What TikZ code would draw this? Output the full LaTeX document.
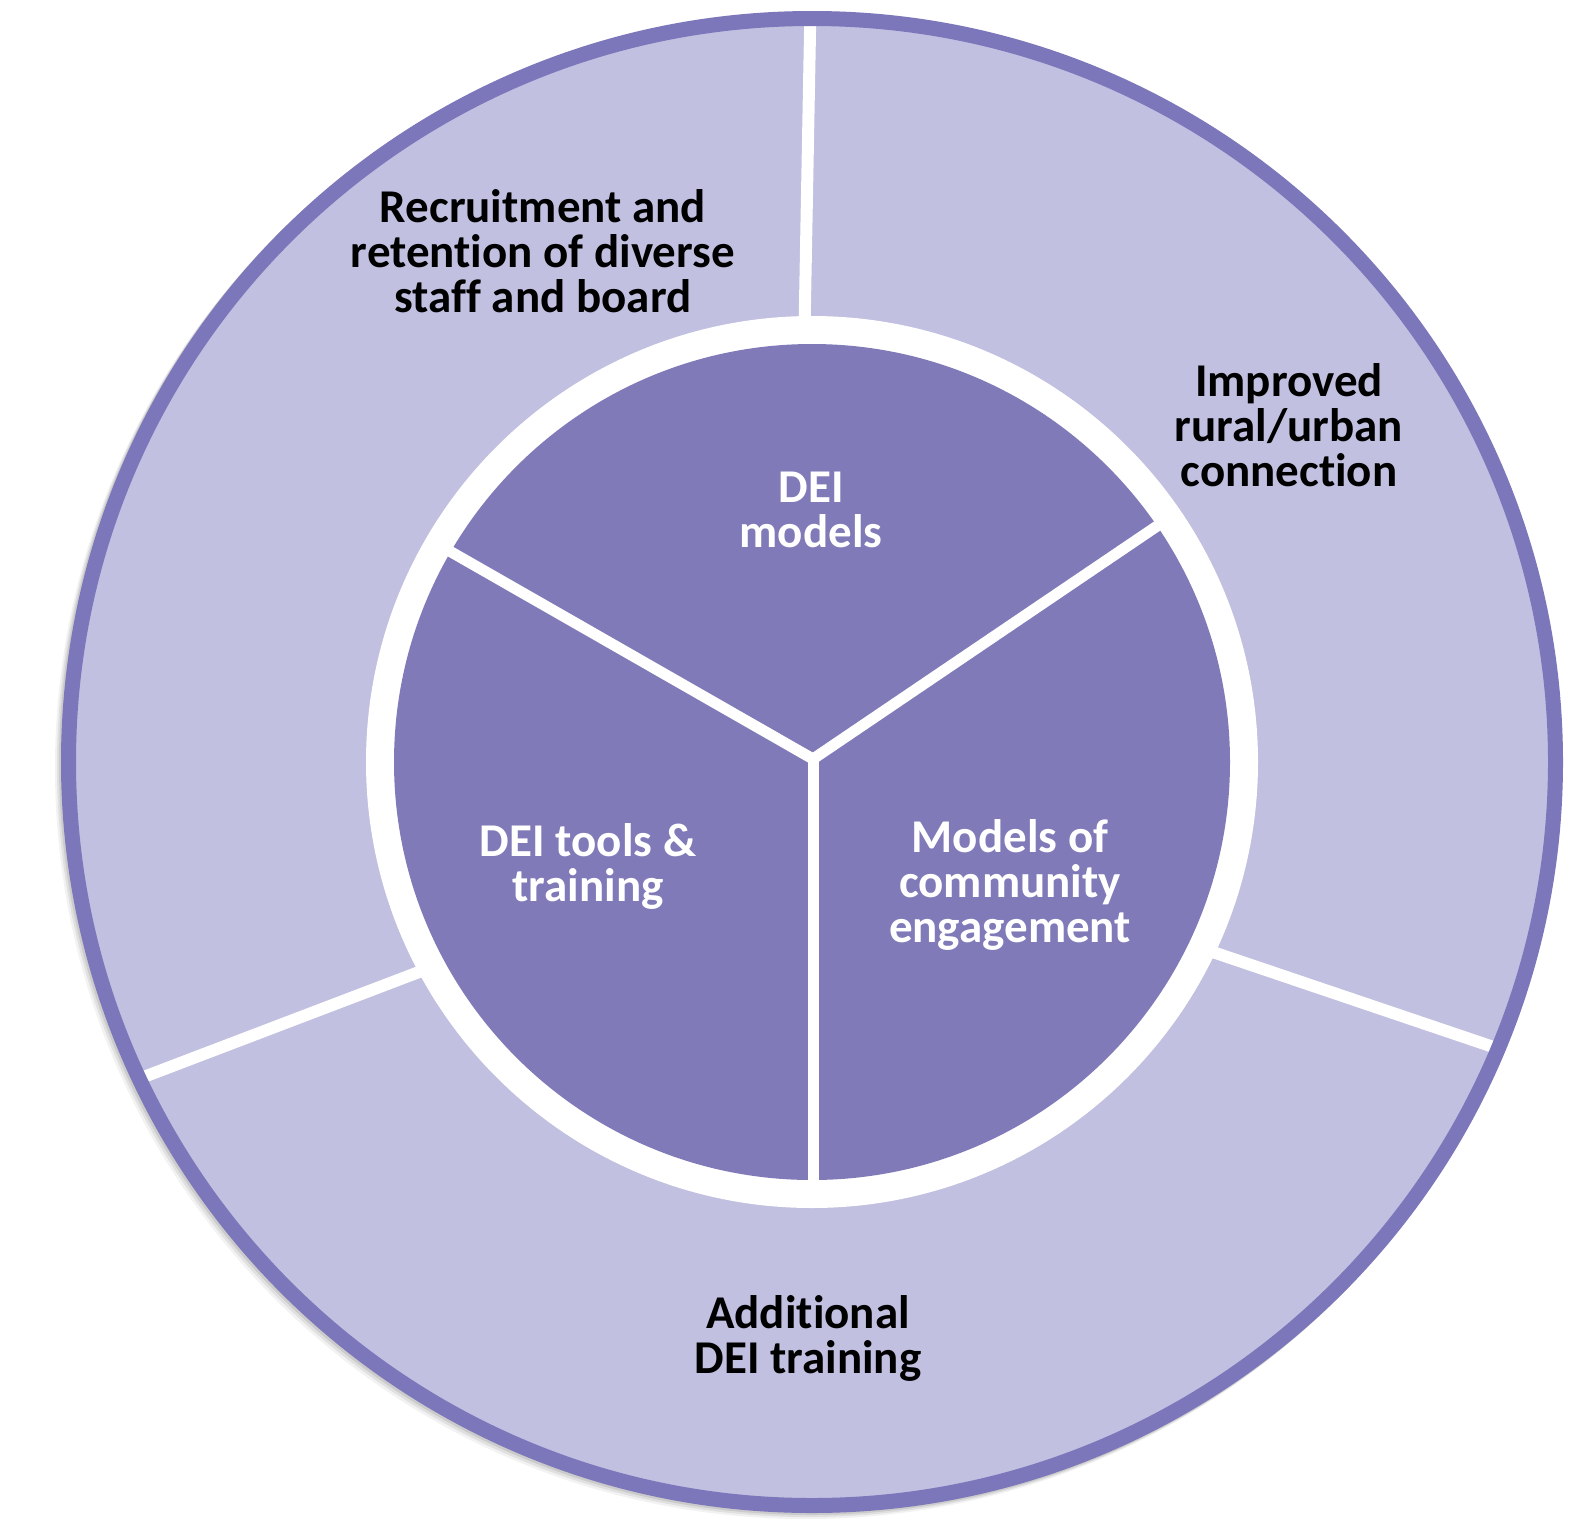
\documentclass[tikz,border=0pt]{standalone}
\usepackage{fontspec}
\setmainfont[Ligatures=NoCommon]{Carlito}
\definecolor{ringlight}{RGB}{193,192,224}
\definecolor{coredark}{RGB}{128,123,184}
\definecolor{rimdark}{RGB}{124,118,186}
\begin{document}
\begin{tikzpicture}[x=1pt,y=-1pt,
  sepline/.style={draw=white,line width=12pt},
  coreline/.style={draw=white,line width=11pt},
  outertext/.style={text=black,font=\fontsize{47}{45}\selectfont\bfseries,align=center,inner sep=0pt},
  innertext/.style={text=white,font=\fontsize{47}{45}\selectfont\bfseries,align=center,inner sep=0pt}]
\useasboundingbox (0,0) rectangle (1595,1518);
\fill[white] (0,0) rectangle (1595,1518);
\coordinate (c) at (812,762);
% faint shadow
\foreach \o/\a in {6/0.05,4/0.07,2/0.09}{
  \fill[black,opacity=\a] ([shift={(-\o,\o)}]c) circle[radius=751pt];
}
% outer ring
\fill[ringlight] (c) circle[radius=750pt];
% outer separators
\coordinate (t1) at (810.5,5);   \coordinate (t2) at (804.5,330);
\coordinate (l1) at (120,1086);  \coordinate (l2) at (440,964);
\coordinate (r1) at (1195,946);  \coordinate (r2) at (1520,1056);
\begin{scope}
  \clip (c) circle[radius=738pt];
  \draw[sepline] (t1) -- (t2);
  \draw[sepline] (l1) -- (l2);
  \draw[sepline] (r1) -- (r2);
\end{scope}
% rim
\draw[rimdark,line width=15pt] (c) circle[radius=743.5pt];
% white ring and core
\fill[white] (c) circle[radius=446pt];
\fill[coredark] (c) circle[radius=418pt];
% core separators
\coordinate (j) at (813,759);
\coordinate (cul) at (439,545);
\coordinate (cur) at (1169,518);
\coordinate (cb) at (813,1195);
\draw[coreline] (cul) -- (j) -- (cur);
\draw[coreline] (j) -- (cb);
% texts
\node[outertext] (recruit) at (543,251) {Recruitment and\\retention of diverse\\staff and board};
\node[outertext] (rural) at (1289,425) {Improved\\rural/urban\\connection};
\node[outertext] (additional) at (808,1338) {Additional\\DEI training};
\node[innertext] (deimodels) at (811,510) {DEI\\models};
\node[innertext] (tools) at (588,866) {DEI tools \&\\training};
\node[innertext] (community) at (1010,885) {Models of\\community\\engagement};
\end{tikzpicture}
\end{document}
